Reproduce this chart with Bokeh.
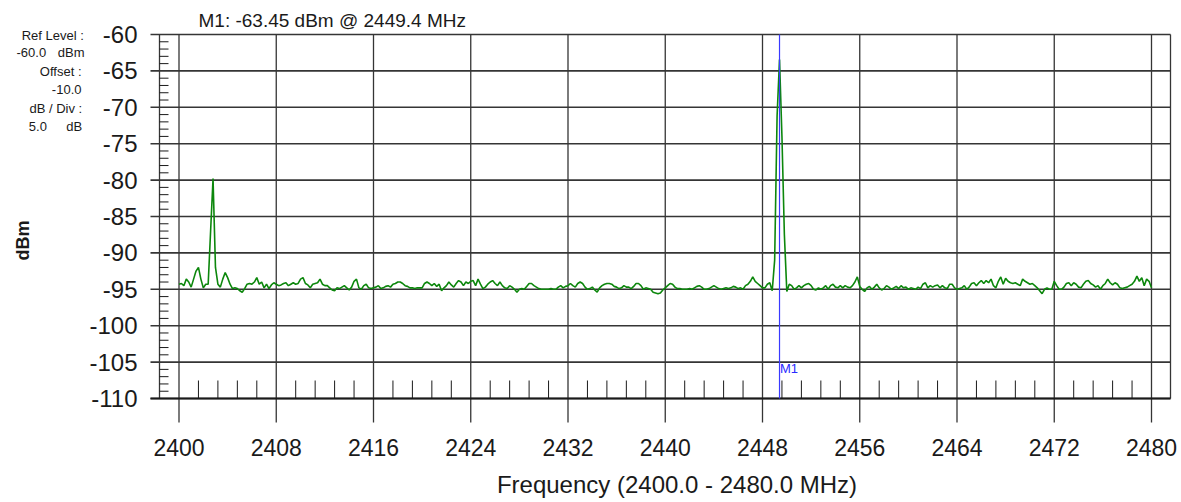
import numpy as np
from bokeh.plotting import figure
from bokeh.models import Range1d
from bokeh.core.properties import value
from bokeh.embed import file_html
from bokeh.resources import INLINE

# ---- sweep data -------------------------------------------------------------
F_START = 2400.0   # MHz
F_STOP = 2480.0    # MHz

LEVELS_2400 = [-94.3, -94.2, -94.5, -93.6, -94.0, -94.7, -93.6, -92.5, -92.0, -93.6,
               -94.8, -94.3, -94.3, -87.0, -79.8, -92.0, -94.3, -94.7, -93.6, -92.7,
               -93.4, -94.3, -94.9, -94.8, -94.9, -95.2, -95.4, -94.9, -94.3, -94.2,
               -94.3, -94.0, -93.4, -94.3, -94.0, -94.8, -94.3, -94.9, -94.4, -94.1]
LEVELS_2408 = [-94.3, -94.5, -94.4, -94.2, -94.1, -94.5, -94.3, -94.1, -94.3, -94.2,
               -93.6, -93.4, -94.2, -94.4, -94.8, -94.3, -94.2, -94.1, -93.6, -94.3,
               -94.5, -94.5, -94.8, -95.1, -95.2, -94.8, -94.9, -94.7, -94.5, -94.8,
               -95.1, -94.7, -93.9, -93.6, -94.8, -95.0, -94.5, -94.3, -94.8, -94.9]
LEVELS_2416 = [-94.8, -94.7, -94.5, -94.9, -94.8, -94.6, -94.5, -94.7, -94.3, -94.2,
               -94.0, -94.0, -94.2, -94.5, -94.6, -94.8, -94.8, -94.9, -94.8, -94.8,
               -94.8, -94.2, -94.0, -94.2, -94.5, -94.2, -94.6, -94.3, -95.2, -94.8,
               -94.5, -94.0, -94.4, -94.7, -94.2, -93.8, -94.0, -94.5, -94.0, -94.2]
LEVELS_2424 = [-93.9, -93.8, -94.5, -93.6, -94.3, -94.9, -94.7, -94.3, -94.0, -93.8,
               -94.2, -94.5, -94.0, -94.5, -94.8, -94.9, -94.5, -94.7, -95.0, -95.4,
               -95.0, -94.9, -95.0, -94.6, -94.2, -94.2, -94.5, -94.7, -94.9, -95.0,
               -95.0, -95.0, -95.0, -94.9, -95.0, -95.0, -94.7, -94.5, -94.8, -94.6]
LEVELS_2432 = [-94.5, -94.2, -94.5, -94.7, -94.2, -94.0, -94.2, -94.7, -95.0, -94.9,
               -94.7, -95.1, -95.4, -94.8, -94.5, -94.3, -94.2, -94.2, -94.3, -94.6,
               -94.7, -94.9, -94.8, -94.5, -94.7, -94.7, -94.9, -94.6, -94.2, -94.2,
               -94.5, -95.0, -94.8, -94.9, -95.0, -95.4, -95.5, -95.6, -95.5, -95.1]
LEVELS_2440 = [-94.8, -94.5, -94.2, -94.3, -94.7, -94.9, -94.9, -95.0, -95.0, -95.0,
               -94.9, -95.0, -94.8, -94.6, -94.5, -94.7, -95.0, -95.0, -94.9, -94.7,
               -94.5, -94.7, -94.9, -95.0, -94.9, -94.8, -94.9, -94.8, -94.6, -94.7,
               -94.9, -94.8, -95.0, -94.5, -94.3, -93.9, -93.3, -93.9, -94.2, -94.5]
LEVELS_2448 = [-94.8, -94.8, -94.3, -94.1, -95.2, -91.0, -71.2, -63.45, -74.0, -87.5,
               -95.3, -94.3, -94.5, -95.0, -94.8, -94.5, -94.8, -94.5, -94.3, -94.2,
               -94.5, -95.0, -95.1, -94.8, -95.0, -94.8, -94.5, -95.0, -94.5, -94.3,
               -94.7, -94.8, -94.5, -94.8, -94.5, -94.7, -94.8, -94.5, -94.0, -93.3]
LEVELS_2456 = [-94.6, -95.0, -95.3, -94.8, -94.6, -95.0, -94.7, -94.3, -94.8, -95.1,
               -94.9, -94.5, -94.7, -95.0, -94.8, -94.6, -94.9, -94.5, -94.8, -94.7,
               -95.0, -94.8, -94.9, -95.0, -94.7, -94.9, -94.3, -94.1, -94.8, -94.5,
               -94.7, -94.5, -94.4, -94.8, -94.5, -94.8, -94.9, -94.3, -94.3, -94.8]
LEVELS_2464 = [-95.0, -94.9, -94.8, -94.5, -95.0, -94.7, -94.2, -94.1, -94.5, -94.1,
               -93.8, -94.2, -93.8, -94.1, -93.6, -94.5, -94.8, -93.9, -93.3, -94.3,
               -93.5, -93.9, -94.1, -94.2, -94.1, -94.3, -94.5, -93.6, -93.9, -94.1,
               -94.3, -94.2, -94.5, -94.8, -95.2, -95.6, -95.0, -94.8, -95.0, -95.0]
LEVELS_2472 = [-93.9, -94.5, -95.0, -95.0, -94.7, -94.2, -94.1, -94.5, -94.1, -94.3,
               -94.7, -94.8, -94.3, -93.9, -93.8, -94.2, -94.4, -94.7, -94.5, -95.0,
               -94.5, -94.2, -93.6, -94.1, -94.4, -94.1, -94.3, -94.8, -94.9, -94.8,
               -94.7, -94.5, -94.3, -93.9, -93.2, -93.9, -93.4, -94.5, -93.6, -93.9,
               -94.8]

MARKER_NAME = "M1"
MARKER_FREQ = 2449.4     # MHz
MARKER_LEVEL = -63.45    # dBm

X_TICKS = [2400, 2408, 2416, 2424, 2432, 2440, 2448, 2456, 2464, 2472, 2480]
Y_TICKS = [-60, -65, -70, -75, -80, -85, -90, -95, -100, -105, -110]
X_LABELS = [str(t) for t in X_TICKS]
Y_LABELS = [str(t) for t in Y_TICKS]

INFO_LINES = [("Ref Level :", ""), ("-60.0", "dBm"), ("Offset :", ""),
              ("-10.0", ""), ("dB / Div :", ""), ("5.0", "dB")]

levels = np.array(LEVELS_2400 + LEVELS_2408 + LEVELS_2416 + LEVELS_2424 + LEVELS_2432
                  + LEVELS_2440 + LEVELS_2448 + LEVELS_2456 + LEVELS_2464 + LEVELS_2472)
freqs = np.linspace(F_START, F_STOP, len(levels))

# five minor divisions inside every major division
x_div = X_TICKS[1] - X_TICKS[0]
y_div = Y_TICKS[0] - Y_TICKS[1]
x_minor = [t + k * x_div / 5 for t in X_TICKS[:-1] for k in range(1, 5)]
y_minor = [t + k * y_div / 5 for t in Y_TICKS[1:] for k in range(1, 5)]

# ---- page geometry (pixels) -------------------------------------------------
W, H = 1181, 502
FRAME_L, FRAME_R, FRAME_T, FRAME_B = 159, 1170, 34, 398
PX_FIRST, PX_LAST = 178.5, 1151.0      # columns of first / last frequency division
px_per_mhz = (PX_LAST - PX_FIRST) / (X_TICKS[-1] - X_TICKS[0])
y_hi, y_lo = Y_TICKS[0], Y_TICKS[-1]
px_per_db = (FRAME_B - FRAME_T) / (y_hi - y_lo)


def dx(px):
    """page column -> frequency"""
    return X_TICKS[0] + (px - PX_FIRST) / px_per_mhz


def dy(py):
    """page row -> level"""
    return y_hi - (py - FRAME_T) / px_per_db


FONT = value("Liberation Sans")
GRID = "#353535"
INK = "#1a1a1a"

p = figure(width=W, height=H, output_backend="svg", toolbar_location=None,
           title=None, x_axis_type=None, y_axis_type=None,
           x_range=Range1d(dx(0), dx(W)), y_range=Range1d(dy(H), dy(0)))
p.min_border = 0
p.background_fill_color = "white"
p.border_fill_color = "white"
p.outline_line_color = None

x_left, x_right = dx(FRAME_L), dx(FRAME_R)
tick_left = dx(FRAME_L - 9)

# level divisions (run out past the axis as the major ticks)
p.segment(x0=[tick_left] * len(Y_TICKS), y0=Y_TICKS,
          x1=[x_right] * len(Y_TICKS), y1=Y_TICKS,
          line_color=GRID, line_width=1.6)
# frequency divisions (run below the bottom as the major ticks)
p.segment(x0=X_TICKS, y0=[y_hi] * len(X_TICKS),
          x1=X_TICKS, y1=[dy(FRAME_B + 24)] * len(X_TICKS),
          line_color=GRID, line_width=1.3)
# frame sides
p.segment(x0=[x_left, x_right], y0=[y_hi, y_hi], x1=[x_left, x_right], y1=[y_lo, y_lo],
          line_color=GRID, line_width=1.3)
p.segment(x0=[tick_left], y0=[y_lo], x1=[x_right], y1=[y_lo],
          line_color=INK, line_width=1.8)

# minor ticks
p.segment(x0=x_minor, y0=[y_lo] * len(x_minor),
          x1=x_minor, y1=[dy(FRAME_B - 18)] * len(x_minor),
          line_color=INK, line_width=1)
p.segment(x0=[x_left] * len(y_minor), y0=y_minor,
          x1=[dx(FRAME_L + 9)] * len(y_minor), y1=y_minor,
          line_color=INK, line_width=1)

# tick labels
p.text(x=X_TICKS, y=[dy(447)] * len(X_TICKS), text=X_LABELS,
       text_font=FONT, text_font_size="23px", text_color=INK,
       text_align="center", text_baseline="middle")
p.text(x=[dx(137)] * len(Y_TICKS), y=Y_TICKS, text=Y_LABELS,
       text_font=FONT, text_font_size="24px", text_color=INK,
       text_align="right", text_baseline="middle")

# trace
p.line(freqs, levels, line_color="#0c870c", line_width=1.6)

# marker
p.segment(x0=[MARKER_FREQ], y0=[y_hi], x1=[MARKER_FREQ], y1=[y_lo],
          line_color="#3a3aff", line_width=1.2)
p.text(x=[dx(779.5)], y=[dy(367.5)], text=[MARKER_NAME],
       text_font=FONT, text_font_size="13px", text_color="#2a2aff",
       text_align="left", text_baseline="middle")

# marker readout
p.text(x=[dx(198)], y=[dy(20)],
       text=[f"{MARKER_NAME}: {MARKER_LEVEL:.2f} dBm @ {MARKER_FREQ:.1f} MHz"],
       text_font=FONT, text_font_size="19px", text_color=INK,
       text_align="left", text_baseline="middle")

# instrument settings block
info_mid = [35, 52.3, 71, 89, 107.7, 125.7]
info_right = [83.3, 84, 81, 81, 81.7, 81.7]
info_left = [None, 16, None, None, None, 28.3]
for (main, unit), my, rx, lx in zip(INFO_LINES, info_mid, info_right, info_left):
    if unit:
        p.text(x=[dx(lx)], y=[dy(my)], text=[main], text_font=FONT,
               text_font_size="13px", text_color=INK,
               text_align="left", text_baseline="middle")
        p.text(x=[dx(rx)], y=[dy(my)], text=[unit], text_font=FONT,
               text_font_size="13px", text_color=INK,
               text_align="right", text_baseline="middle")
    else:
        p.text(x=[dx(rx)], y=[dy(my)], text=[main], text_font=FONT,
               text_font_size="13px", text_color=INK,
               text_align="right", text_baseline="middle")

# axis titles
p.text(x=[dx(676.5)], y=[dy(484)],
       text=[f"Frequency ({F_START:.1f} - {F_STOP:.1f} MHz)"],
       text_font=FONT, text_font_size="24px", text_color=INK,
       text_align="center", text_baseline="middle")
p.text(x=[dx(22)], y=[dy(240)], text=["dBm"], angle=np.pi / 2,
       text_font=FONT, text_font_size="18px", text_font_style="bold", text_color=INK,
       text_align="center", text_baseline="middle")

open("out.html", "w").write(file_html(p, INLINE))
